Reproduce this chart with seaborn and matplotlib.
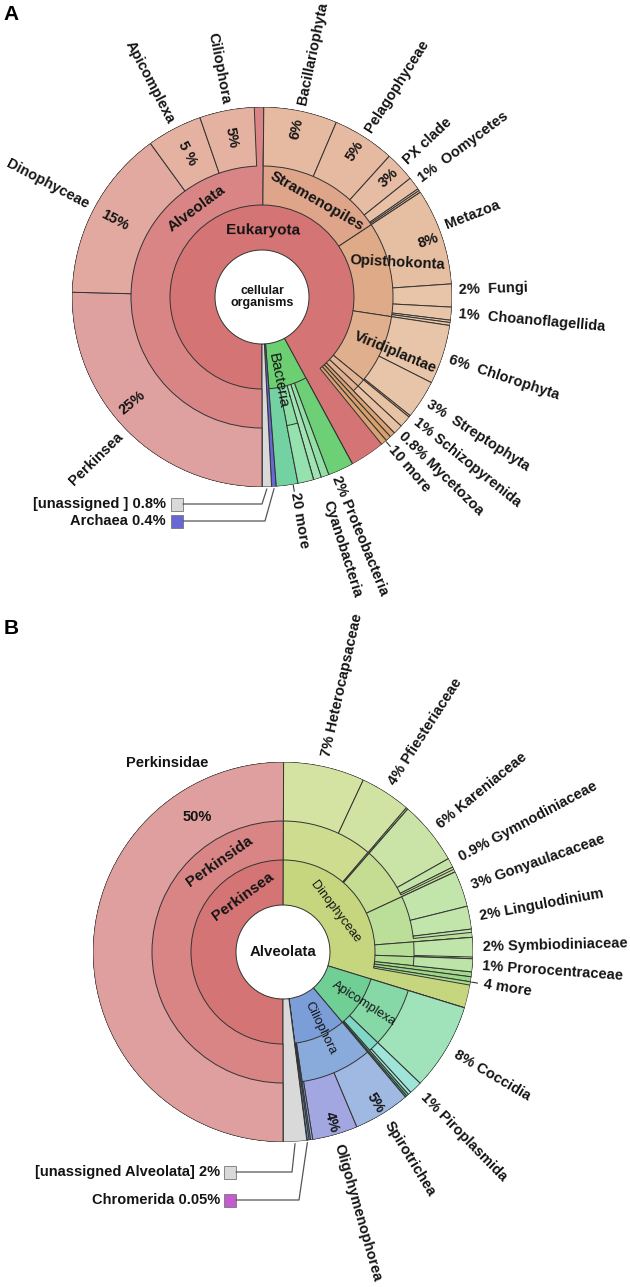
import numpy as np
import matplotlib
matplotlib.use("Agg")
import matplotlib.pyplot as plt
from matplotlib.patches import Rectangle
from matplotlib.lines import Line2D
import seaborn as sns

sns.set_theme(style="white")
plt.rcParams["font.family"] = ["Liberation Sans", "DejaVu Sans"]

# ======================= DATA : panel A (cellular organisms) =======================
A_nodes = ["Eukaryota", "Bacteria", "Archaea", "[unassigned ]",
           "Alveolata", "Stramenopiles", "Opisthokonta", "Viridiplantae",
           "Heterolobosea", "Evosea", "euk_o1", "euk_o2", "euk_o3",
           "Perkinsea", "Dinophyceae", "Apicomplexa", "Ciliophora",
           "Bacillariophyta", "Pelagophyceae", "PX clade", "Oomycetes", "str_o1", "str_o2",
           "Metazoa", "Fungi", "Choanoflagellida", "opi_o1", "opi_o2",
           "Chlorophyta", "Streptophyta", "vir_o1",
           "Schizopyrenida", "Mycetozoa",
           "Proteobacteria", "Cyanobacteria", "bac_s2", "bac_s1", "bac_o2", "bac_s1c"]
A_parent = [None, None, None, None,
            "Eukaryota", "Eukaryota", "Eukaryota", "Eukaryota",
            "Eukaryota", "Eukaryota", "Eukaryota", "Eukaryota", "Eukaryota",
            "Alveolata", "Alveolata", "Alveolata", "Alveolata",
            "Stramenopiles", "Stramenopiles", "Stramenopiles", "Stramenopiles", "Stramenopiles", "Stramenopiles",
            "Opisthokonta", "Opisthokonta", "Opisthokonta", "Opisthokonta", "Opisthokonta",
            "Viridiplantae", "Viridiplantae", "Viridiplantae",
            "Heterolobosea", "Evosea",
            "Bacteria", "Bacteria", "Bacteria", "Bacteria", "Bacteria", "bac_s1"]
A_pct = [92.1, 6.7, 0.4, 0.8,
         50.15, 15.55, 11.7, 8.5,
         1.0, 0.8, 0.47, 0.47, 0.5,
         25.4, 14.6, 4.7, 4.65,
         6.25, 5.3, 2.55, 1.1, 0.17, 0.17,
         8.2, 1.95, 1.1, 0.2, 0.25,
         5.05, 3.3, 0.15,
         1.0, 0.8,
         2.18, 0.67, 0.67, 1.34, 1.84, 1.34]
A_colors = ["#d47474", "#6ccf72", "#6767d6", "#d9d9d9",
            "#d98585", "#dea58a", "#dfaa88", "#e0b08e",
            "#e2b492", "#e0b090", "#d9a373", "#d69f6d", "#d8a272",
            "#dfa0a0", "#e2a9a0", "#e5b2a2", "#e5b2a2",
            "#e6b9a1", "#e6b9a1", "#e7bca4", "#e8c0a6", "#e8c2a8", "#e8c2a8",
            "#e6bfa2", "#e8c4a8", "#e8c4a8", "#e8c6aa", "#e8c6aa",
            "#e8c5a8", "#e8c5a8", "#e6c0a0",
            "#e8c3a3", "#e7c1a1",
            "#6dd076", "#92e0a6", "#a0e4b3", "#8ddea6", "#73d2a2", "#95e2ae"]

A_out_keys = ["Perkinsea", "Dinophyceae", "Apicomplexa", "Ciliophora", "Bacillariophyta",
              "Pelagophyceae", "PX clade", "Oomycetes", "Metazoa", "Fungi", "Choanoflagellida",
              "Chlorophyta", "Streptophyta", "Schizopyrenida", "Mycetozoa", "euk_o2",
              "Proteobacteria", "Cyanobacteria", "bac_o2"]
A_out_text = ["Perkinsea", "Dinophyceae", "Apicomplexa", "Ciliophora", "Bacillariophyta",
              "Pelagophyceae", "PX clade", "1%  Oomycetes", "Metazoa", "2%  Fungi",
              "1%  Choanoflagellida", "6%  Chlorophyta", "3%  Streptophyta",
              "1% Schizopyrenida", "0.8% Mycetozoa", "10 more",
              "2% Proteobacteria", "Cyanobacteria", "20 more"]
A_in_keys = ["Perkinsea", "Dinophyceae", "Apicomplexa", "Ciliophora",
             "Bacillariophyta", "Pelagophyceae", "PX clade", "Metazoa"]
A_in_text = ["25%", "15%", "5 %", "5%", "6%", "5%", "3%", "8%"]

# ======================= DATA : panel B (Alveolata) =======================
B_nodes = ["Perkinsea", "Dinophyceae", "Apicomplexa", "Ciliophora", "Chromerida", "[unassigned Alveolata]",
           "Perkinsida", "Perkinsidae",
           "Peridiniales", "din_t", "Gymnodiniales", "Gonyaulacales", "Suessiales", "Prorocentrales",
           "m1", "m2", "m3",
           "Heterocapsaceae", "Pfiesteriaceae", "Kareniaceae", "Gymnodiniaceae", "gym_t",
           "Gonyaulacaceae", "Lingulodinium", "gon_t", "Symbiodiniaceae", "Prorocentraceae",
           "Conoidasida", "Aconoidasida", "api_t1", "api_t2", "Coccidia", "Piroplasmida", "aco_t",
           "Intramacronucleata", "cil_t1", "cil_t2", "Spirotrichea", "Oligohymenophorea", "int_t"]
B_parent = [None, None, None, None, None, None,
            "Perkinsea", "Perkinsida",
            "Dinophyceae", "Dinophyceae", "Dinophyceae", "Dinophyceae", "Dinophyceae", "Dinophyceae",
            "Dinophyceae", "Dinophyceae", "Dinophyceae",
            "Peridiniales", "Peridiniales", "Gymnodiniales", "Gymnodiniales", "Gymnodiniales",
            "Gonyaulacales", "Gonyaulacales", "Gonyaulacales", "Suessiales", "Prorocentrales",
            "Apicomplexa", "Apicomplexa", "Apicomplexa", "Apicomplexa", "Conoidasida", "Aconoidasida", "Aconoidasida",
            "Ciliophora", "Ciliophora", "Ciliophora", "Intramacronucleata", "Intramacronucleata", "Intramacronucleata"]
B_pct = [50.05, 29.7, 9.1, 9.1, 0.05, 2.0,
         50.05, 50.05,
         11.2, 0.17, 6.65, 5.7, 1.8, 1.1,
         0.42, 0.42, 0.28,
         6.9, 4.3, 5.4, 0.8, 0.2,
         3.05, 1.95, 0.28, 1.65, 1.1,
         7.4, 1.35, 0.2, 0.15, 7.4, 1.1, 0.25,
         8.82, 0.14, 0.14, 4.8, 3.85, 0.17]
B_colors = ["#d47474", "#c6d67e", "#6fcf95", "#7b9ed8", "#c45ccf", "#d9d9d9",
            "#d98585", "#df9f9f",
            "#cddc8e", "#c4d98a", "#c5dd92", "#bbdf98", "#b6de97", "#b2dc94",
            "#a3d98a", "#9dd686", "#a8db8e",
            "#d4e2a2", "#d1e3a2", "#c9e4a6", "#c4e3a6", "#c4e3a6",
            "#c1e5ab", "#c1e5ab", "#bfe4aa", "#bfe5ab", "#bce4a8",
            "#86d9a7", "#7fd8c6", "#5fc08c", "#55b480", "#a0e2b9", "#9fe4d9", "#a6e6dc",
            "#89abdc", "#7ba1d8", "#8ab0e0", "#a0b9e3", "#a3a7e1", "#9ab3e0"]

B_out_keys = ["Heterocapsaceae", "Pfiesteriaceae", "Kareniaceae", "Gymnodiniaceae", "Gonyaulacaceae",
              "Lingulodinium", "Symbiodiniaceae", "Prorocentraceae", "m2", "Coccidia",
              "Piroplasmida", "Spirotrichea", "Oligohymenophorea"]
B_out_text = ["7% Heterocapsaceae", "4% Pfiesteriaceae", "6% Kareniaceae", "0.9% Gymnodiniaceae",
              "3% Gonyaulacaceae", "2% Lingulodinium", "2% Symbiodiniaceae", "1% Prorocentraceae",
              "4 more", "8% Coccidia", "1% Piroplasmida", "Spirotrichea", "Oligohymenophorea"]

# ======================= LAYOUT / STYLE =======================
W, H = 630, 1287
R_IN = [47, 92, 131]
R_OUT = 190
EDGE = "#333333"
LW = 0.7
TXT = "#141414"
FS = 10.5

fig = plt.figure(figsize=(W / 100, H / 100), dpi=100)
fig.patch.set_facecolor("white")


def make_ax(cx, cy):
    ax = fig.add_axes([(cx - R_OUT) / W, 1 - (cy + R_OUT) / H, 2 * R_OUT / W, 2 * R_OUT / H],
                      projection="polar")
    ax.set_theta_zero_location("N")
    ax.set_theta_direction(-1)
    ax.set_axis_off()
    return ax


def sunburst(ax, nodes, parents, pct, colors, start_deg):
    geo = {}
    cursor = {None: start_deg}
    for n, p, v in zip(nodes, parents, pct):
        s = cursor[p]
        cursor[p] = s + v * 3.6
        d = 0 if p is None else geo[p][2] + 1
        geo[n] = (s, v * 3.6, d)
        cursor[n] = s
    for d in range(3):
        idx = [i for i, n in enumerate(nodes) if geo[n][2] == d]
        th = [np.deg2rad(geo[nodes[i]][0] + geo[nodes[i]][1] / 2) for i in idx]
        wd = [np.deg2rad(geo[nodes[i]][1]) for i in idx]
        ax.bar(th, R_OUT - R_IN[d], width=wd, bottom=R_IN[d],
               color=[colors[i] for i in idx], edgecolor=EDGE, linewidth=LW, align="center")
    ax.set_ylim(0, R_OUT)
    return geo


def mid(geo, k):
    return geo[k][0] + geo[k][1] / 2


def radial_rot(theta):
    t = theta % 360
    phi = 90 - t
    if t <= 180:
        return phi, "left"
    return phi + 180, "right"


def tang_rot(theta):
    r = (-theta) % 180
    if r > 90:
        r -= 180
    return r


def out_label(ax, theta, r, s, size=FS):
    rot, ha = radial_rot(theta)
    ax.text(np.deg2rad(theta), r, s, rotation=rot, ha=ha, va="center",
            rotation_mode="anchor", fontsize=size, fontweight="bold", color=TXT)


def in_label(ax, theta, r, s, mode, size=FS, weight="bold", rot=None):
    if mode == "rad":
        rot = radial_rot(theta)[0]
    elif mode == "tan":
        rot = tang_rot(theta)
    elif rot is None:
        rot = 0
    ax.text(np.deg2rad(theta), r, s, rotation=rot, ha="center", va="center",
            rotation_mode="anchor", fontsize=size, fontweight=weight, color=TXT)


def more_tick(ax, theta):
    ax.plot([np.deg2rad(theta)] * 2, [R_OUT + 1, R_OUT + 7], color="#333333", lw=0.8,
            clip_on=False)


def key_box(ax, geo, node, label, y, text_right, sq_left, corner_x, color):
    th = np.deg2rad(mid(geo, node))
    disp = ax.transData.transform((th, R_OUT + 2))
    fx, fy = fig.transFigure.inverted().transform(disp)
    yf = 1 - y / H
    fig.text(text_right / W, yf, label, ha="right", va="center", fontsize=FS,
             fontweight="bold", color=TXT)
    fig.add_artist(Line2D([(sq_left + 12) / W, corner_x / W, fx], [yf, yf, fy],
                          transform=fig.transFigure, color="#555555", lw=0.9))
    fig.add_artist(Rectangle((sq_left / W, yf - 6.5 / H), 12 / W, 13 / H,
                             transform=fig.transFigure, facecolor=color,
                             edgecolor="#777777", lw=0.6))


# ======================= PANEL A =======================
axA = make_ax(262, 297)
gA = sunburst(axA, A_nodes, A_parent, A_pct, A_colors, 180.0)

A_out_dth = {"Fungi": -1.5, "Chlorophyta": 0.6, "Schizopyrenida": -2.2,
             "Mycetozoa": 0.2, "euk_o2": 1.1, "Proteobacteria": 2.2,
             "Cyanobacteria": 1.8, "Metazoa": -2.5, "bac_o2": -1.8}
A_out_r = {"Proteobacteria": 194, "Cyanobacteria": 214, "euk_o2": 198, "bac_o2": 198,
           "Mycetozoa": 195}
for k, s in zip(A_out_keys, A_out_text):
    th = mid(gA, k) + A_out_dth.get(k, 0)
    if s.endswith("more"):
        more_tick(axA, th)
    out_label(axA, th, A_out_r.get(k, 197), s)

A_in_dth = {"Perkinsea": 5.0}
A_in_r = {"Perkinsea": 167, "Dinophyceae": 166, "Apicomplexa": 162, "Ciliophora": 162,
          "Bacillariophyta": 172, "Pelagophyceae": 173, "PX clade": 174, "Metazoa": 176}
for k, s in zip(A_in_keys, A_in_text):
    in_label(axA, mid(gA, k) + A_in_dth.get(k, 0), A_in_r[k], s, "rad")

axA.text(0, 0, "cellular\norganisms", ha="center", va="center", fontsize=9,
         fontweight="bold", color=TXT, linespacing=0.95)
in_label(axA, 0.5, 67, "Eukaryota", "tan", size=11)
in_label(axA, 323.5, 110, "Alveolata", "tan", size=11)
in_label(axA, 29.8, 111, "Stramenopiles", "tan", size=11)
in_label(axA, 75.6, 140, "Opisthokonta", "fix", size=10.7, rot=-3)
in_label(axA, 112.5, 144, "Viridiplantae", "rad", size=10.7)
in_label(axA, 169.0, 85, "Bacteria", "rad", size=11, weight="normal")

key_box(axA, gA, "[unassigned ]", "[unassigned ] 0.8%", 504, 166, 171, 262, A_colors[3])
key_box(axA, gA, "Archaea", "Archaea 0.4%", 521, 166, 171, 265, A_colors[2])

# ======================= PANEL B =======================
axB = make_ax(283, 952)
gB = sunburst(axB, B_nodes, B_parent, B_pct, B_colors, 180.0)

B_out_dth = {"m2": 0.8}
for k, s in zip(B_out_keys, B_out_text):
    th = mid(gB, k) + B_out_dth.get(k, 0)
    if s.endswith("more"):
        more_tick(axB, th)
        out_label(axB, th, 203, s)
    else:
        out_label(axB, th, 200, s)

in_label(axB, 327.8, 160, "50%", "fix", rot=0)
in_label(axB, mid(gB, "Oligohymenophorea"), 177, "4%", "rad")
in_label(axB, mid(gB, "Spirotrichea"), 177, "5%", "rad")
in_label(axB, 328.5, 222, "Perkinsidae", "fix", rot=0)

axB.text(0, 0, "Alveolata", ha="center", va="center", fontsize=10.8,
         fontweight="bold", color=TXT)
in_label(axB, 324, 69, "Perkinsea", "tan", size=11)
in_label(axB, 325, 111, "Perkinsida", "tan", size=11)
in_label(axB, 52.6, 66, "Dinophyceae", "tan", size=9.2, weight="normal")
in_label(axB, 122.5, 96, "Apicomplexa", "rad", size=9.2, weight="normal")
in_label(axB, 154, 85, "Ciliophora", "rad", size=9.2, weight="normal")

key_box(axB, gB, "[unassigned Alveolata]", "[unassigned Alveolata] 2%", 1172, 220, 224, 292, B_colors[5])
key_box(axB, gB, "Chromerida", "Chromerida 0.05%", 1200, 220, 224, 299, B_colors[4])

# panel letters
fig.text(11 / W, 1 - 14 / H, "A", ha="center", va="center", fontsize=15, fontweight="bold", color="black")
fig.text(11 / W, 1 - 628 / H, "B", ha="center", va="center", fontsize=15, fontweight="bold", color="black")

fig.savefig("out.png", dpi=100, facecolor="white")
